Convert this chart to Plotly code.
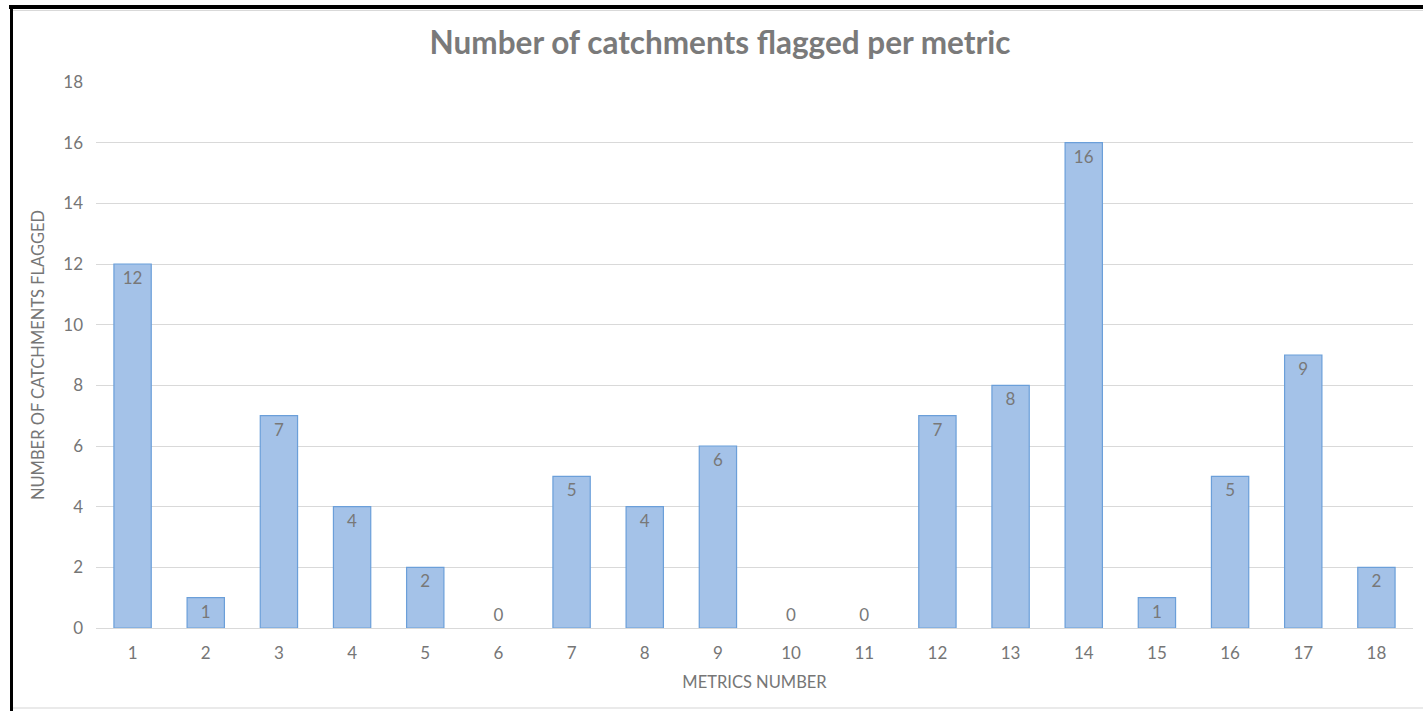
import plotly.graph_objects as go

metrics = [str(i) for i in range(1, 19)]
flagged = [12, 1, 7, 4, 2, 0, 5, 4, 6, 0, 0, 7, 8, 16, 1, 5, 9, 2]
y_ticks = list(range(0, 19, 2))

W, H = 1423, 711
L, R, T, B = 96, 10, 82, 83
pw, ph = W - L - R, H - T - B

def px(x):
    return (x - L) / pw

def py(y):
    return (H - B - y) / ph

positions = ["inside" if v > 0 else "outside" for v in flagged]
edge_widths = [1.2 if v > 0 else 0 for v in flagged]

font_family = "Lato"
fig = go.Figure(go.Bar(
    x=metrics,
    y=flagged,
    width=0.51,
    marker=dict(color="#a4c2e8", line=dict(color="#6b9fd9", width=edge_widths)),
    text=[str(v) for v in flagged],
    textposition=positions,
    insidetextanchor="end",
    textfont=dict(family=font_family, size=17, color="#787878"),
    cliponaxis=False,
))

fig.update_layout(
    width=W, height=H,
    margin=dict(l=L, r=R, t=T, b=B),
    paper_bgcolor="white",
    plot_bgcolor="white",
    showlegend=False,
    bargap=0.49,
    title=dict(text="<b>Number of catchments flagged per metric</b>",
               x=720 / W, xref="container", xanchor="center",
               y=1 - 43 / H, yref="container", yanchor="middle",
               font=dict(family=font_family, size=31.5, color="#7a7a7a")),
    font=dict(family=font_family, color="#767676"),
    xaxis=dict(
        type="category",
        tickfont=dict(size=17, color="#767676"),
        showgrid=False,
        showline=True, linecolor="#d9d9d9", linewidth=1,
        ticks="",
        ticklabelstandoff=10,
        title=dict(text="METRICS NUMBER", font=dict(size=16.5, color="#767676"), standoff=14),
    ),
    yaxis=dict(
        range=[0, 18],
        tickvals=y_ticks,
        tickfont=dict(size=17, color="#767676"),
        showgrid=True, gridcolor="#d9d9d9", gridwidth=1,
        zeroline=False,
        showline=False,
        ticks="",
        ticklabelstandoff=12,
        title=dict(text="NUMBER OF CATCHMENTS FLAGGED", font=dict(size=16.5, color="#767676"), standoff=14),
    ),
    shapes=[
        dict(type="line", xref="paper", yref="paper", x0=px(9), x1=px(W), y0=py(7), y1=py(7),
             line=dict(color="black", width=4)),
        dict(type="line", xref="paper", yref="paper", x0=px(11.5), x1=px(11.5), y0=py(5), y1=py(H),
             line=dict(color="black", width=3)),
        dict(type="line", xref="paper", yref="paper", x0=px(13), x1=px(W), y0=py(10.5), y1=py(10.5),
             line=dict(color="#d9d9d9", width=1)),
        dict(type="line", xref="paper", yref="paper", x0=px(13), x1=px(W), y0=py(708), y1=py(708),
             line=dict(color="#e3e3e3", width=1.5)),
    ],
)

fig.write_html("out.html", config={"displayModeBar": False},
               post_script="document.body.style.margin='0';")
